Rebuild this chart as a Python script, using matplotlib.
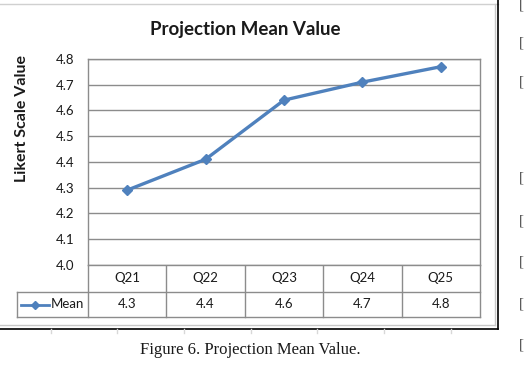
"""
Projection Mean Value — line chart with an Excel-style data table under it.
"""

import matplotlib
matplotlib.use("Agg")
import matplotlib.pyplot as plt
from matplotlib.lines import Line2D

# ── Data ──────────────────────────────────────────────────────────────────────

questions = ["Q21", "Q22", "Q23", "Q24", "Q25"]
mean_values = [4.29, 4.41, 4.64, 4.71, 4.77]
y_ticks = [4.0, 4.1, 4.2, 4.3, 4.4, 4.5, 4.6, 4.7, 4.8]

# ── Style ─────────────────────────────────────────────────────────────────────

W, H = 524, 368
LINE_COL = "#4F81BD"
GRID_COL = "#8c8c8c"
TEXT_COL = "#1a1a1a"
FONT = ["Lato", "DejaVu Sans"]
SERIF = ["Liberation Serif", "DejaVu Serif"]

plt.rcParams.update({
    "font.family": FONT,
    "font.size": 9,
    "text.color": TEXT_COL,
})


def fx(px):
    return px / W


def fy(py):
    return 1 - py / H


fig = plt.figure(figsize=(W / 100, H / 100), dpi=100)
fig.patch.set_facecolor("white")

# overlay for frame / table (pixel coords)
over = fig.add_axes([0, 0, 1, 1])
over.set_xlim(0, W)
over.set_ylim(H, 0)
over.axis("off")

# ── Plot area ─────────────────────────────────────────────────────────────────

left, right, top, bottom = 88, 480, 59, 264.7
ax = fig.add_axes([fx(left), fy(bottom), fx(right - left), (bottom - top) / H])
x = list(range(len(questions)))
ax.plot(x, mean_values, color=LINE_COL, lw=2.4, marker="D", markersize=5.5,
        zorder=3, clip_on=False)
ax.set_xlim(-0.5, len(questions) - 0.5)
ax.set_ylim(y_ticks[0], y_ticks[-1])
ax.set_yticks(y_ticks)
ax.set_yticklabels([f"{v:.1f}" for v in y_ticks], fontsize=9.5)
ax.set_xticks([])
ax.tick_params(axis="y", length=0, pad=10, colors=TEXT_COL)
ax.grid(True, axis="y", color=GRID_COL, lw=1)
for s in ax.spines.values():
    s.set_color(GRID_COL)
    s.set_linewidth(1)

fig.text(fx(245), fy(29), "Projection Mean Value", fontsize=13.5,
         fontweight="bold", ha="center", va="center")
fig.text(fx(22), fy(118), "Likert Scale Value", rotation=90, fontsize=11.5,
         fontweight="bold", ha="center", va="center")

# ── Data table ────────────────────────────────────────────────────────────────

col_w = (right - left) / len(questions)
row1_bot, row2_bot = 292, 317
leg_left = 17
kw = dict(color=GRID_COL, lw=1)

over.plot([leg_left, right], [row1_bot, row1_bot], **kw)
over.plot([leg_left, right], [row2_bot, row2_bot], **kw)
over.plot([leg_left, leg_left], [row1_bot, row2_bot], **kw)
for i in range(len(questions) + 1):
    cx = left + i * col_w
    over.plot([cx, cx], [bottom, row2_bot], **kw)
for i, (q, v) in enumerate(zip(questions, mean_values)):
    cx = left + (i + 0.5) * col_w
    over.text(cx, (bottom + row1_bot) / 2, q, ha="center", va="center",
              fontsize=9.5)
    over.text(cx, (row1_bot + row2_bot) / 2, f"{v:.1f}", ha="center",
              va="center", fontsize=9.5)

# legend key in the table
ky = (row1_bot + row2_bot) / 2
over.add_line(Line2D([21, 49], [ky, ky], color=LINE_COL, lw=2))
over.plot([35], [ky], marker="D", color=LINE_COL, markersize=4.5)
over.text(51, ky, "Mean", ha="left", va="center", fontsize=9.5)

# ── Chart frame, sheet gridlines, caption ────────────────────────────────────

over.plot([0, 498], [4, 4], color="#d0d0d0", lw=1)
over.plot([0, 495], [325, 325], color="#c8c8c8", lw=1)
over.plot([0, 498], [328.5, 328.5], color="black", lw=1.2)
over.plot([495, 495], [4, 325], color="#c8c8c8", lw=1)
over.plot([498, 498], [0, 328.5], color="black", lw=1.2)
for vx in [51, 117, 184, 251, 317, 384, 451]:
    over.plot([vx, vx], [329, 333], color="#d8d8d8", lw=1)

fig.text(fx(250), fy(350), "Figure 6. Projection Mean Value.",
         family=SERIF, fontsize=12, ha="center", va="center")

for by in [5, 43, 82, 178, 221, 262, 304, 345]:
    over.text(519, by, "[", family=SERIF, fontsize=11, ha="left",
              va="center", color="#444444")

fig.savefig("out.png", dpi=100, facecolor="white")
plt.close(fig)
